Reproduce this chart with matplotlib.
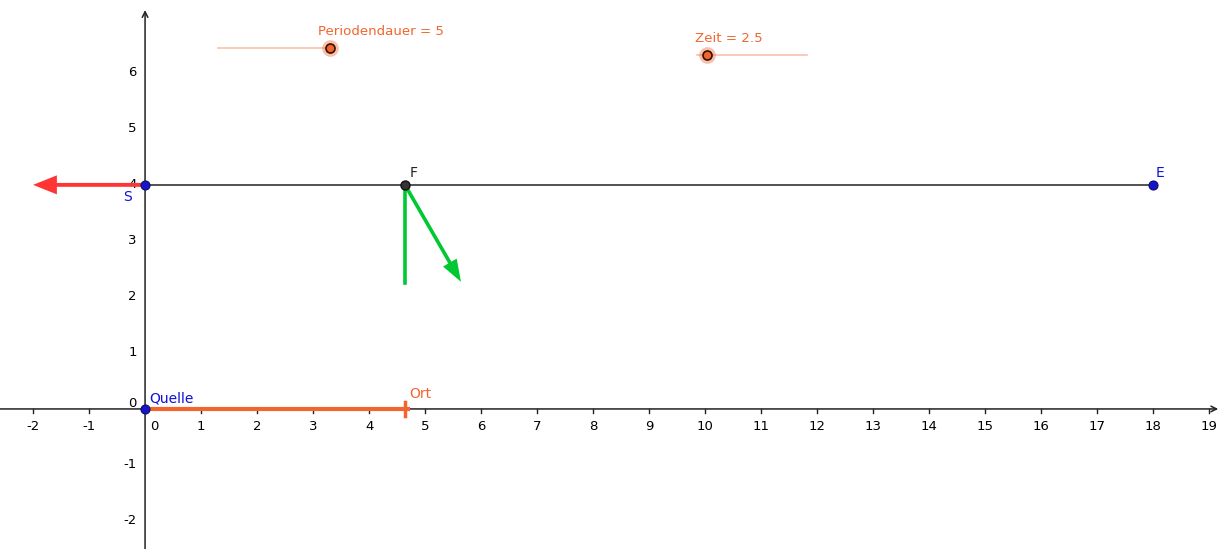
import matplotlib.pyplot as plt

# Punkte (GeoGebra-Konstruktion)
quelle = (0, 0)
s_punkt = (0, 4)
f_punkt = (4.64, 4)
e_punkt = (18, 4)
ort_x = 4.64
s_pfeil_ende = (-2, 4)
f_lot_ende = (4.64, 2.25)
f_pfeil_ende = (5.64, 2.27)

# Schieberegler
perioden_linie = [1.3, 3.3]
perioden_y = 6.45
perioden_wert = 3.3
zeit_linie = [9.86, 11.82]
zeit_y = 6.32
zeit_wert = 10.04

x_ticks = list(range(-2, 20))
y_ticks = list(range(-2, 7))

orange = '#f2652f'
blau = '#1010d8'
rot = '#ff3535'
gruen = '#00c832'

fig = plt.figure(figsize=(12.21, 5.49), dpi=100)
ax = fig.add_axes([0, 0, 1, 1])
ax.set_xlim(-2.59, 19.21)
ax.set_ylim(-2.5, 7.3)

for sp in ax.spines.values():
    sp.set_visible(False)
ax.set_xticks([])
ax.set_yticks([])

# Achsen mit Pfeilen
ax.annotate('', xy=(19.16, 0), xytext=(-2.59, 0),
            arrowprops=dict(arrowstyle='->', color='#222222', lw=1.1, shrinkA=0, shrinkB=0))
ax.annotate('', xy=(0, 7.12), xytext=(0, -2.5),
            arrowprops=dict(arrowstyle='->', color='#222222', lw=1.1, shrinkA=0, shrinkB=0))
for t in x_ticks:
    if t != 0:
        ax.plot([t, t], [0, -0.07], color='#222222', lw=1)
        ax.text(t, -0.2, str(t), ha='center', va='top', fontsize=9.5)
ax.text(0.17, -0.2, '0', ha='center', va='top', fontsize=9.5)
for t in y_ticks:
    if t != 0:
        ax.text(-0.15, t, str(t), ha='right', va='center', fontsize=9.5)
ax.text(-0.15, 0.1, '0', ha='right', va='center', fontsize=9.5)

# Linie S-E
ax.plot([s_punkt[0], e_punkt[0]], [4, 4], color='#444444', lw=1.3, zorder=2)

# roter Pfeil
ax.annotate('', xy=s_pfeil_ende, xytext=s_punkt,
            arrowprops=dict(arrowstyle='-|>,head_length=1.0,head_width=0.4', color=rot,
                            lw=2.8, shrinkA=0, shrinkB=0, mutation_scale=12,
                            joinstyle='miter', capstyle='butt'), zorder=3)

# gruene Linien
ax.plot([f_punkt[0], f_lot_ende[0]], [f_punkt[1], f_lot_ende[1]], color=gruen, lw=2.6, zorder=3)
ax.annotate('', xy=f_pfeil_ende, xytext=f_punkt,
            arrowprops=dict(arrowstyle='-|>,head_length=0.9,head_width=0.32', color=gruen,
                            lw=2.6, shrinkA=0, shrinkB=0, mutation_scale=12,
                            joinstyle='miter', capstyle='butt'), zorder=3)

# orange Strecke Ort
ax.plot([0, ort_x + 0.09], [0, 0], color=orange, lw=3, zorder=3, solid_capstyle='butt')
ax.plot([ort_x, ort_x], [-0.12, 0.12], color=orange, lw=2.5, zorder=3)
ax.text(ort_x + 0.08, 0.15, 'Ort', color=orange, fontsize=10, ha='left', va='bottom')

# Punkte
for p in [quelle, s_punkt, e_punkt]:
    ax.plot(*p, 'o', ms=6.5, mfc='#1515d0', mec='#101060', mew=0.8, zorder=5)
ax.plot(*f_punkt, 'o', ms=6.5, mfc='#333333', mec='#111111', zorder=5)
ax.text(-0.31, 3.78, 'S', color=blau, fontsize=10, ha='center', va='center')
ax.text(f_punkt[0] + 0.08, 4.08, 'F', color='#222222', fontsize=10, ha='left', va='bottom')
ax.text(e_punkt[0] + 0.05, 4.08, 'E', color=blau, fontsize=10, ha='left', va='bottom')
ax.text(0.08, 0.06, 'Quelle', color=blau, fontsize=10, ha='left', va='bottom')

# Schieberegler
ax.plot(perioden_linie, [perioden_y, perioden_y], color=orange, alpha=0.4, lw=1.2)
ax.plot(perioden_wert, perioden_y, 'o', ms=12, color=orange, alpha=0.4, mec='none')
ax.plot(perioden_wert, perioden_y, 'o', ms=6.5, mfc=orange, mec='#331100', mew=1.2)
ax.text(3.09, 6.62, 'Periodendauer = 5', color=orange, fontsize=9.6, ha='left', va='bottom')

ax.plot(zeit_linie, [zeit_y, zeit_y], color=orange, alpha=0.4, lw=1.2)
ax.plot(zeit_wert, zeit_y, 'o', ms=12, color=orange, alpha=0.4, mec='none')
ax.plot(zeit_wert, zeit_y, 'o', ms=6.5, mfc=orange, mec='#331100', mew=1.2)
ax.text(9.82, 6.49, 'Zeit = 2.5', color=orange, fontsize=9.6, ha='left', va='bottom')

fig.savefig('out.png', dpi=100)
